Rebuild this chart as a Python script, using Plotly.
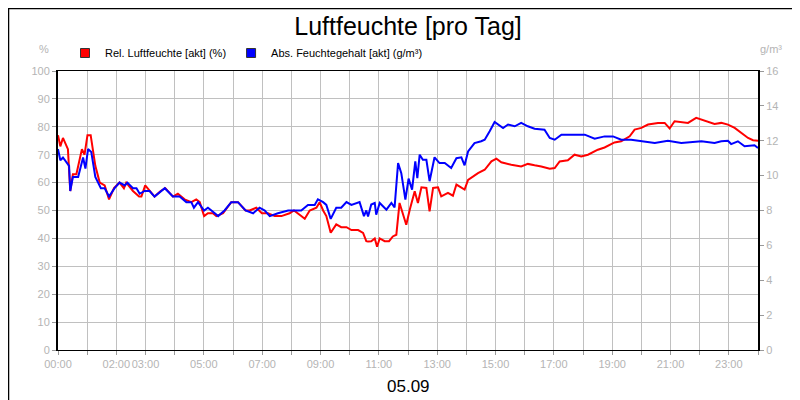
import plotly.graph_objects as go

rel_t = [0,0.08,0.17,0.34,0.42,0.51,0.63,0.82,0.91,1.01,1.12,1.28,1.43,1.6,1.75,1.92,2.11,2.26,2.34,2.57,2.78,2.86,2.99,3.14,3.31,3.52,3.68,3.94,4.11,4.34,4.57,4.74,4.86,5.01,5.14,5.31,5.43,5.66,5.94,6.17,6.43,6.57,6.8,6.99,7.2,7.43,7.66,7.94,8.09,8.34,8.46,8.63,8.86,8.97,9.09,9.2,9.35,9.54,9.71,9.89,10.06,10.29,10.46,10.57,10.63,10.74,10.86,10.94,11.03,11.2,11.35,11.48,11.6,11.71,11.94,12.06,12.23,12.34,12.46,12.63,12.74,12.86,13.03,13.14,13.37,13.54,13.66,13.94,14.06,14.4,14.63,14.86,15.03,15.2,15.54,15.88,16.11,16.34,16.57,16.86,17.03,17.2,17.48,17.71,17.94,18.17,18.51,18.74,19.08,19.31,19.6,19.77,20.0,20.23,20.57,20.8,20.97,21.14,21.37,21.6,21.88,22.06,22.17,22.51,22.74,22.97,23.2,23.48,23.66,23.83,24.0]
rel_v = [77,73,76,72,57,63,63,72,70,77,77,66,60,59,54,58,60,58,60,57,55,55,59,57,55,57,58,55,56,54,53,54,53,48,49,49,48,49,53,53,50,50,51,49,49,48,48,49,50,48,47,50,51,53,50,48,42,45,44,44,43,43,42,39,38.9,39,40,37,40,39,39,40.7,41.3,52.7,44.9,50.3,56.9,52.7,58.3,58.1,49.7,58.1,58.3,55.1,56.3,55.3,59.3,57.5,61.0,63.4,64.6,67.6,68.6,67.3,66.4,65.8,66.7,66.2,65.8,65.0,65.2,67.6,68.0,70.0,69.4,70.0,71.8,72.6,74.4,74.8,76.6,79.0,79.6,80.8,81.4,81.4,79.4,82.0,81.6,81.4,83.2,82.6,82.0,81.0,81.4,80.8,79.6,77.4,76.0,75.2,75.0]

abs_t = [0,0.08,0.17,0.29,0.38,0.42,0.51,0.69,0.86,0.94,1.03,1.14,1.28,1.47,1.6,1.75,1.94,2.11,2.29,2.38,2.57,2.69,2.8,2.97,3.14,3.31,3.66,3.94,4.17,4.4,4.57,4.66,4.8,5.01,5.14,5.26,5.49,5.71,5.94,6.17,6.43,6.69,6.91,7.09,7.26,7.54,7.89,8.34,8.57,8.8,8.91,9.09,9.2,9.35,9.54,9.71,9.89,10.06,10.34,10.49,10.57,10.63,10.74,10.86,10.91,11.03,11.26,11.43,11.54,11.66,11.77,11.91,12.02,12.14,12.25,12.32,12.4,12.51,12.63,12.74,12.91,13.08,13.26,13.48,13.66,13.83,13.94,14.06,14.28,14.51,14.63,14.8,14.97,15.26,15.43,15.66,15.88,16.11,16.34,16.68,16.86,17.03,17.26,17.71,18.06,18.4,18.74,19.03,19.31,19.65,20.0,20.46,20.91,21.37,22.06,22.51,22.74,22.97,23.08,23.31,23.54,23.88,24.0]
abs_v = [11.52,10.88,11.04,10.72,10.56,9.12,9.92,9.92,11.04,10.4,11.52,11.36,9.92,9.28,9.28,8.8,9.28,9.6,9.44,9.6,9.28,9.28,8.96,9.12,9.12,8.8,9.28,8.8,8.8,8.48,8.48,8.16,8.48,8.0,8.16,8.0,7.68,8.0,8.48,8.48,8.0,7.84,8.16,8.0,7.68,7.84,8.0,8.0,8.32,8.32,8.64,8.48,8.32,7.52,8.16,8.16,8.48,8.32,8.48,7.68,8.0,7.66,8.34,8.43,7.76,8.43,8.05,8.43,8.18,10.72,10.14,8.62,9.83,9.2,10.82,9.86,11.2,10.91,10.91,9.68,11.05,10.72,10.72,10.44,11.0,11.05,10.59,11.39,11.87,11.97,12.06,12.54,13.08,12.73,12.93,12.83,13.02,12.83,12.69,12.63,12.16,12.06,12.35,12.35,12.35,12.12,12.25,12.25,12.06,12.06,11.97,11.87,12.0,11.87,11.97,11.87,11.97,12.0,11.81,11.97,11.68,11.74,11.58]

hour_ticks = list(range(25))
hour_labels = ["00:00","","02:00","03:00","","05:00","","07:00","","09:00","","11:00","","13:00","","15:00","","17:00","","19:00","","21:00","","23:00",""]

series_names = ["Rel. Luftfeuchte [akt] (%)", "Abs. Feuchtegehalt [akt] (g/m³)"]
series_colors = ["#ff0000", "#0000ff"]

fig = go.Figure()
fig.add_trace(go.Scatter(x=abs_t, y=abs_v, mode="lines", showlegend=False,
                         line=dict(color=series_colors[1], width=2), yaxis="y2"))
fig.add_trace(go.Scatter(x=rel_t, y=rel_v, mode="lines", showlegend=False,
                         line=dict(color=series_colors[0], width=2)))
for nm, c in zip(series_names, series_colors):
    fig.add_trace(go.Scatter(x=[None], y=[None], mode="markers", name=nm,
                             marker=dict(symbol="square", size=9, color=c,
                                         line=dict(color="#333", width=1))))

tickfont = dict(family="Arial, Liberation Sans", size=11, color="#b4b4b4")
fig.update_layout(
    width=800, height=400, plot_bgcolor="white", paper_bgcolor="white",
    margin=dict(l=50, r=50, t=63, b=58, autoexpand=False),
    font=dict(family="Arial, Liberation Sans"),
    title=dict(text="Luftfeuchte [pro Tag]", x=0.5, xanchor="center", xref="paper",
               yref="container", y=0.955, yanchor="middle",
               font=dict(size=25, color="black")),
    showlegend=True,
    legend=dict(orientation="h", x=0.01, xanchor="left", y=1.0645, yanchor="middle",
                font=dict(size=11, color="black"), itemwidth=30,
                bgcolor="rgba(0,0,0,0)", tracegroupgap=0),
    xaxis=dict(range=[0, 24], tickvals=hour_ticks, ticktext=hour_labels, tickangle=0,
               automargin=False, showgrid=True,
               gridcolor="#c0c0c0", gridwidth=1, showline=True, linecolor="black", linewidth=1,
               mirror=True, ticks="outside", ticklen=4, tickcolor="#999", tickfont=tickfont,
               zeroline=False),
    yaxis=dict(range=[0, 100], dtick=10, automargin=False, showgrid=True, gridcolor="#c0c0c0",
               showline=True, linecolor="black", linewidth=2, ticks="outside", ticklen=4,
               tickcolor="#999", tickfont=tickfont, zeroline=False),
    yaxis2=dict(range=[0, 16], dtick=2, overlaying="y", side="right", showgrid=False,
                automargin=False, showline=True, linecolor="black", linewidth=2,
                ticks="outside", ticklen=4, tickcolor="#999", tickfont=tickfont, zeroline=False),
    shapes=[dict(type="rect", xref="paper", yref="paper", x0=-0.0707, x1=1.0707,
                 y0=-0.206, y1=1.224, line=dict(color="black", width=1.5))],
    annotations=[
        dict(text="%", xref="paper", yref="paper", x=-0.01, y=1.05, showarrow=False,
             font=dict(size=11, color="#b4b4b4"), xanchor="right", yanchor="bottom"),
        dict(text="g/m³", xref="paper", yref="paper", x=1.0, y=1.05, showarrow=False,
             font=dict(size=11, color="#b4b4b4"), xanchor="left", yanchor="bottom"),
        dict(text="05.09", xref="paper", yref="paper", x=0.5, y=-0.13, showarrow=False,
             font=dict(size=17, color="black"), yanchor="middle"),
    ],
)
fig.write_html("out.html")
